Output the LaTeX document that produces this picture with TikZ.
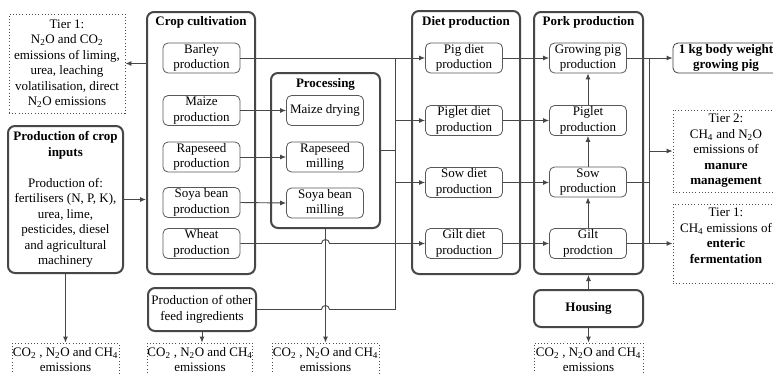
\documentclass[tikz,border=0pt]{standalone}
\usepackage{fontspec}
\setmainfont{Liberation Serif}
\usetikzlibrary{arrows.meta,calc}
\newcommand{\sbs}[1]{\textsubscript{#1}}
\begin{document}
\begin{tikzpicture}[x=1pt,y=-1pt,
  every node/.style={font=\fontsize{13}{15.5}\selectfont, text=black},
  inbox/.style={draw=black!65, line width=0.8pt, rounded corners=5pt, minimum width=77pt, minimum height=30pt, inner sep=0pt, align=center},
  grp/.style={draw=black!72, line width=2pt, rounded corners=7pt, inner sep=0pt, align=center},
  dotbox/.style={draw=black!70, line width=0.9pt, dash pattern=on 0.9pt off 2.3pt, inner sep=0pt, align=center},
  ttl/.style={font=\fontsize{13}{15.5}\selectfont\bfseries},
  con/.style={draw=black!72, line width=0.9pt},
  arr/.style={con, -{Latex[length=6pt,width=5pt]}},
]
\path[use as bounding box, clip] (0,0) rectangle (773,373);
\fill[white] (0,0) rectangle (773,373);

% left column
\node[dotbox, minimum width=116pt, minimum height=99pt] (tierA) at (67,63.5)
  {Tier 1:\\N\sbs{2}O and CO\sbs{2}\\emissions of liming,\\urea, leaching\\volatilisation, direct\\N\sbs{2}O emissions};
\node[grp, minimum width=115pt, minimum height=147pt] (inputs) at (65.5,199.5)
  {\textbf{Production of crop}\\\textbf{inputs}\\[15.5pt]Production of:\\fertilisers (N, P, K),\\urea, lime,\\pesticides, diesel\\and agricultural\\machinery};

% crop cultivation
\node[grp, minimum width=108pt, minimum height=262pt] (crop) at (201,143) {};
\node[ttl] (cropt) at (201,22) {Crop cultivation};
\node[inbox] (barley) at (201.5,58) {Barley\\production};
\node[inbox] (maize) at (201.5,110.5) {Maize\\production};
\node[inbox] (rape) at (201.5,157) {Rapeseed\\production};
\node[inbox] (soya) at (201.5,202.5) {Soya bean\\production};
\node[inbox] (wheat) at (201.5,243.5) {Wheat\\production};

% processing
\node[grp, minimum width=109pt, minimum height=155pt] (proc) at (325.5,150.5) {};
\node[ttl] (proct) at (325.5,84) {Processing};
\node[inbox] (mdry) at (325,110.5) {Maize drying};
\node[inbox] (rmill) at (325,157) {Rapeseed\\milling};
\node[inbox] (smill) at (325,203) {Soya bean\\milling};

\node[grp, minimum width=108pt, minimum height=43pt] (other) at (202,309.5) {Production of other\\feed ingredients};

% diet production
\node[grp, minimum width=108pt, minimum height=263pt] (diet) at (466,142.5) {};
\node[ttl] (diett) at (466,22) {Diet production};
\node[inbox] (pigd) at (464,58) {Pig diet\\production};
\node[inbox] (pigletd) at (464,120.5) {Piglet diet\\production};
\node[inbox] (sowd) at (464,182.5) {Sow diet\\production};
\node[inbox] (giltd) at (464,243.5) {Gilt diet\\production};

% pork production
\node[grp, minimum width=109pt, minimum height=262pt] (pork) at (588.5,143) {};
\node[ttl] (porkt) at (588.5,22) {Pork production};
\node[inbox] (grow) at (588,58) {Growing pig\\production};
\node[inbox] (piglet) at (588,120.5) {Piglet\\production};
\node[inbox] (sow) at (588,182) {Sow\\production};
\node[inbox] (gilt) at (588,243.5) {Gilt\\prodction};
\node[grp, minimum width=109pt, minimum height=37pt] (housing) at (588.5,308.5) {\textbf{Housing}};

% right column
\node[inbox, minimum width=106pt, draw=black!75] (kg) at (726,58) {\textbf{1 kg body weight}\\\textbf{growing pig}};
\node[dotbox, minimum width=106pt, minimum height=82pt] (tier2) at (726,151)
  {Tier 2:\\CH\sbs{4} and N\sbs{2}O\\emissions of\\\textbf{manure}\\\textbf{management}};
\node[dotbox, minimum width=106pt, minimum height=79pt] (enteric) at (726,243.5)
  {Tier 1:\\CH\sbs{4} emissions of\\\textbf{enteric}\\\textbf{fermentation}\\\mbox{}};

% bottom emissions
\node[dotbox, minimum width=107pt, minimum height=33pt] (em1) at (65.5,359.5) {CO\sbs{2} , N\sbs{2}O and CH\sbs{4}\\emissions};
\node[dotbox, minimum width=104pt, minimum height=33pt] (em2) at (200,359.5) {CO\sbs{2} , N\sbs{2}O and CH\sbs{4}\\emissions};
\node[dotbox, minimum width=107pt, minimum height=33pt] (em3) at (325.5,359.5) {CO\sbs{2} , N\sbs{2}O and CH\sbs{4}\\emissions};
\node[dotbox, minimum width=109pt, minimum height=33pt] (em4) at (588.5,359.5) {CO\sbs{2} , N\sbs{2}O and CH\sbs{4}\\emissions};

% connectors left
\draw[arr] (crop.west |- tierA.east) -- (tierA.east);
\draw[arr] (inputs.east) -- (inputs.east -| crop.west);
\draw[arr] (inputs.south) -- (em1.north);
\draw[arr] (maize.east) -- (mdry.west);
\draw[arr] (rape.east) -- (rmill.west);
\draw[arr] (soya.east) -- (smill.west);

% bus to diets
\coordinate (bt) at (395,58);
\coordinate (bb) at (395,309.5);
\draw[con] (bt) -- (bb);
\draw[arr] (barley.east) -- (pigd.west);
\draw[con] (proc.east) -- (proc.east -| bt);
\draw[arr] (bt |- pigletd.west) -- (pigletd.west);
\draw[arr] (bt |- sowd.west) -- (sowd.west);
\draw[arr] (wheat.east) -- ($(proc.south |- wheat.east)+(-4,0)$) arc[start angle=180,end angle=360,radius=4] -- (giltd.west);
\draw[con] (other.east) -- ($(proc.south |- other.east)+(-4,0)$) arc[start angle=180,end angle=360,radius=4] -- (bb);
\draw[arr] (proc.south) -- (em3.north);
\draw[arr] (other.south) -- (other.south |- em2.north);

% diets to pork
\draw[arr] (pigd.east) -- (grow.west);
\draw[arr] (pigletd.east) -- (piglet.west);
\draw[arr] (sowd.east) -- (sowd.east -| sow.west);
\draw[arr] (giltd.east) -- (gilt.west);
\draw[arr] (gilt.north) -- (sow.south);
\draw[arr] (sow.north) -- (piglet.south);
\draw[arr] (piglet.north) -- (grow.south);
\draw[arr] (housing.north) -- (pork.south);
\draw[arr] (housing.south) -- (em4.north);

% right side
\coordinate (rt) at (649,58);
\coordinate (rb) at (649,243.5);
\draw[con] (rt) -- (rb);
\draw[arr] (grow.east) -- (kg.west);
\draw[con] (sow.east) -- (sow.east -| rt);
\draw[arr] (rt |- tier2.west) -- (tier2.west);
\draw[arr] (gilt.east) -- (enteric.west);
\end{tikzpicture}
\end{document}
